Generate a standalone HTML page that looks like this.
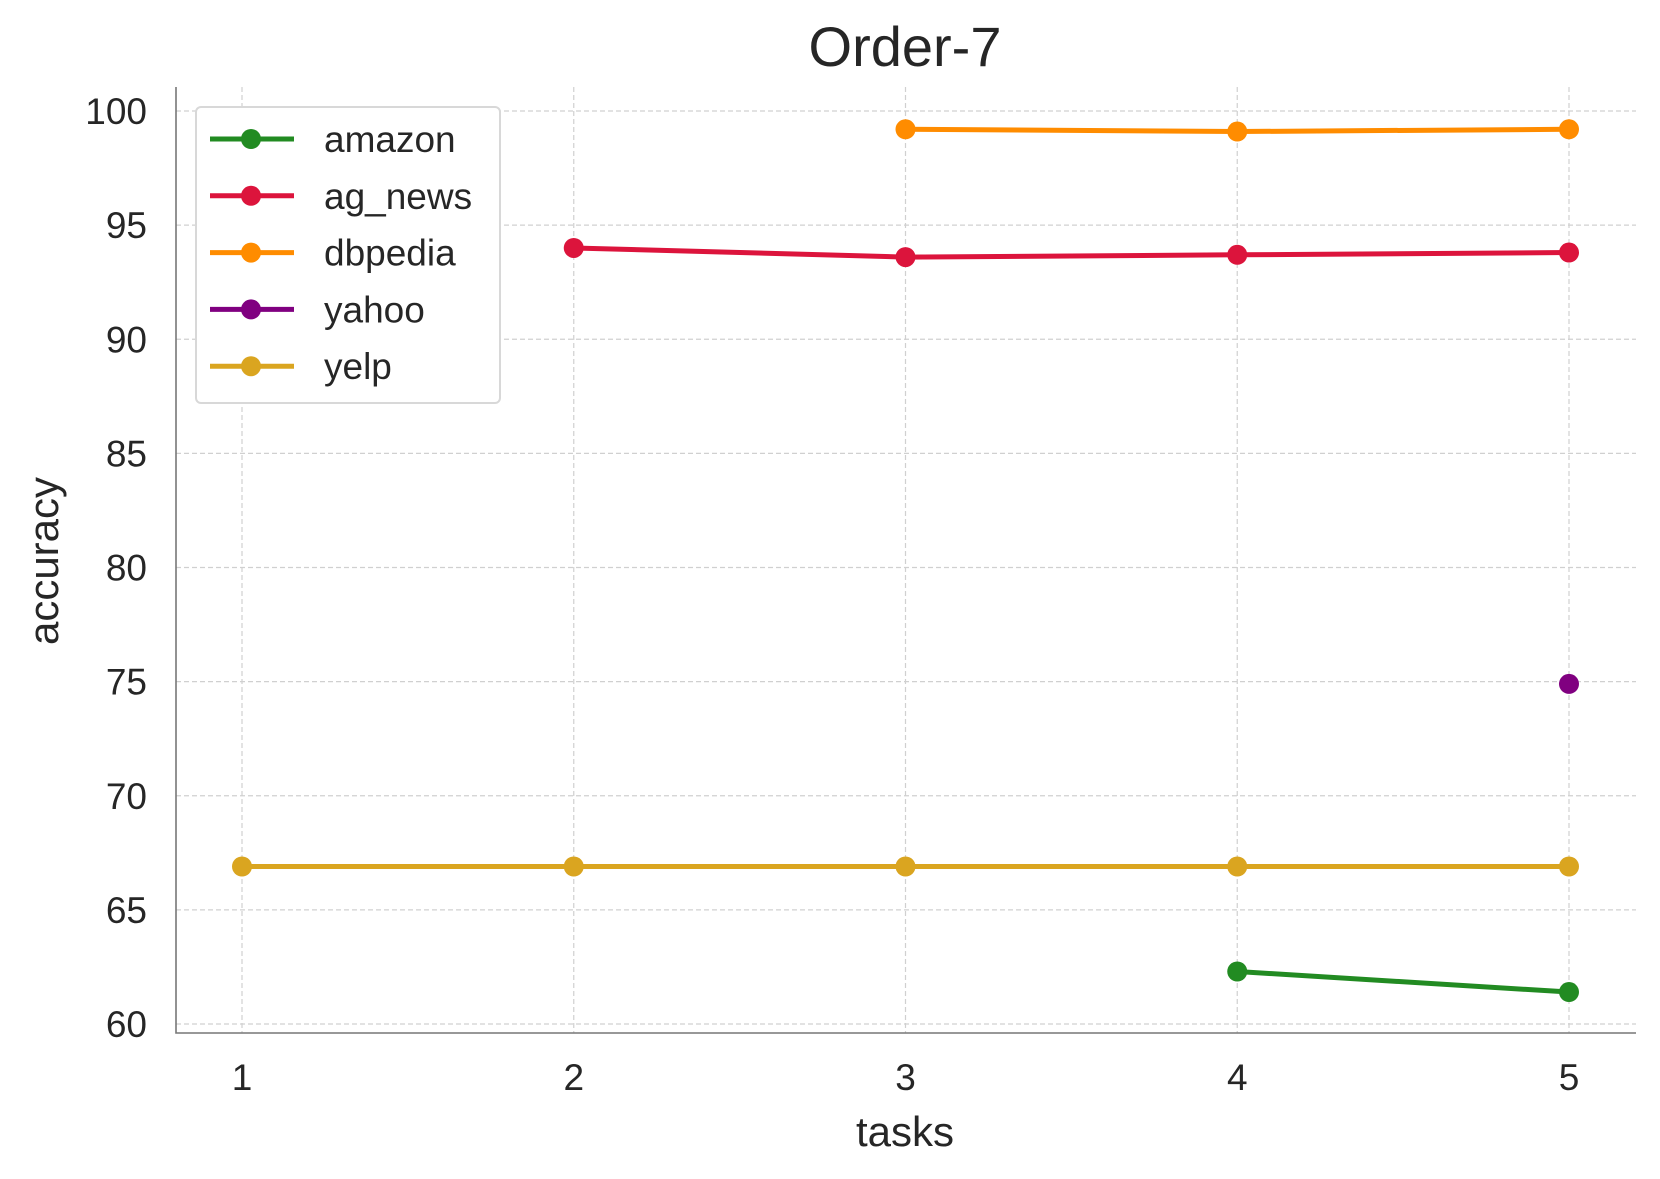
<!DOCTYPE html>
<html><head><meta charset="utf-8"><style>
body{margin:0;background:#fff}
svg{display:block;font-family:"Liberation Sans",Arial,sans-serif}
</style></head><body>
<svg id="chart" width="1660" height="1179" viewBox="0 0 1660 1179">
<text x="905" y="66" font-size="56" text-anchor="middle" fill="#262626">Order-7</text>
<g id="grid"></g>
<g id="axes"></g>
<g id="series"></g>
<text x="905" y="1146" font-size="42" text-anchor="middle" fill="#262626">tasks</text>
<text transform="translate(58,561) rotate(-90)" font-size="42" text-anchor="middle" fill="#262626">accuracy</text>
<g id="legend"></g>
</svg>
<script>
const tasks=[1,2,3,4,5];
const yTicks=[60,65,70,75,80,85,90,95,100];
const seriesNames=["amazon","ag_news","dbpedia","yahoo","yelp"];
const seriesColors=["#228b22","#dc143c","#ff8c00","#800080","#daa520"];
const amazon=[null,null,null,62.3,61.4];
const agNews=[null,94.0,93.6,93.7,93.8];
const dbpedia=[null,null,99.2,99.1,99.2];
const yahoo=[null,null,null,null,74.9];
const yelp=[66.9,66.9,66.9,66.9,66.9];
const allSeries=[amazon,agNews,dbpedia,yahoo,yelp];

const L=176,R=1636,T=87,B=1033;
const X=t=>242+(t-1)*(1569-242)/4;
const Y=v=>1024-(v-60)*(1024-111)/40;
const NS="http://www.w3.org/2000/svg";
function mk(tag,attrs,parent){const e=document.createElementNS(NS,tag);for(const k in attrs)e.setAttribute(k,attrs[k]);parent.appendChild(e);return e;}
const grid=document.getElementById('grid'),axes=document.getElementById('axes'),ser=document.getElementById('series'),leg=document.getElementById('legend');
tasks.forEach(t=>{
 const l=mk('line',{x1:X(t),x2:X(t),y1:T,y2:B,stroke:'#d0d0d0','stroke-width':1.2,'stroke-dasharray':'5,3'},grid);
 
 
 const tx=mk('text',{x:X(t),y:B+57,'font-size':37,'text-anchor':'middle',fill:'#262626'},axes);
 tx.textContent=t;
 
 
});
yTicks.forEach(v=>{
 const l=mk('line',{x1:L,x2:R,y1:Y(v),y2:Y(v),stroke:'#d0d0d0','stroke-width':1.2,'stroke-dasharray':'5,3'},grid);
 
 
 const tx=mk('text',{x:L-29,y:Y(v)+13,'font-size':37,'text-anchor':'end',fill:'#262626'},axes);
 tx.textContent=v;
 
 
});
const ax=mk('path',{d:`M${L} ${T}V${B}H${R}`,fill:'none',stroke:'#777','stroke-width':1.6},axes);


allSeries.forEach((s,i)=>{
 const g=mk('g',{},ser);
 
 
 const pts=[];s.forEach((v,j)=>{if(v!==null)pts.push([X(tasks[j]),Y(v)]);});
 if(pts.length>1){const p=mk('polyline',{points:pts.map(p=>p.join(',')).join(' '),fill:'none',stroke:seriesColors[i],'stroke-width':5},g);
 
 }
 pts.forEach(p=>{const c=mk('circle',{cx:p[0],cy:p[1],r:10,fill:seriesColors[i]},g);
 
 });
});
const box=mk('rect',{x:196,y:107,width:304,height:296,rx:5,fill:'#fff',stroke:'#d8d8d8','stroke-width':2},leg);


seriesNames.forEach((n,i)=>{
 const y=139+i*56.8;
 const g=mk('g',{},leg);
 
 
 mk('line',{x1:210,x2:294,y1:y,y2:y,stroke:seriesColors[i],'stroke-width':5},g);
 mk('circle',{cx:251,cy:y,r:10,fill:seriesColors[i]},g);
 const t=mk('text',{x:324,y:y+13,'font-size':37,fill:'#262626'},g);
 t.textContent=n;
});
</script>
</body></html>
